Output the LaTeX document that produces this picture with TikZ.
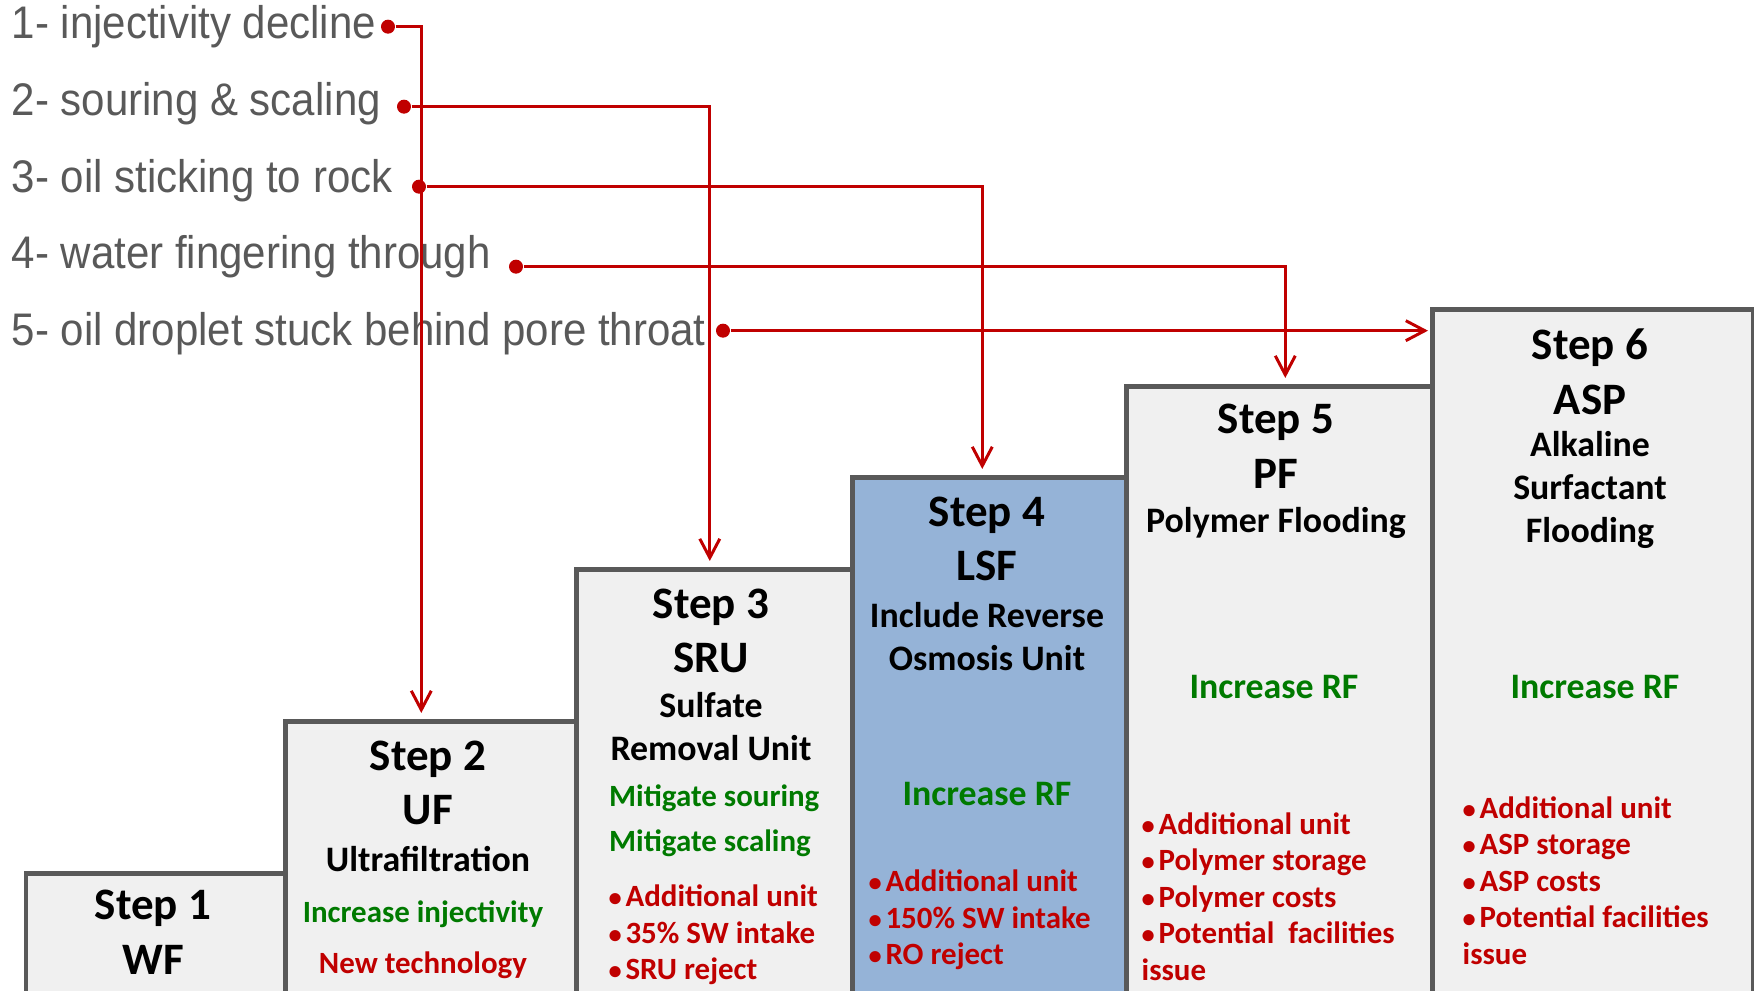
\documentclass[tikz,border=0pt]{standalone}
\usepackage{fontspec}
\setmainfont{Carlito}
\newfontfamily\listfont[FakeStretch=0.92]{Liberation Sans}
\usetikzlibrary{arrows.meta}
\usepackage{xcolor}
\definecolor{stepgrey}{HTML}{595959}
\definecolor{stepfill}{HTML}{F0F0F0}
\definecolor{stepblue}{HTML}{95B3D7}
\definecolor{linkred}{HTML}{C00000}
\definecolor{gaingreen}{HTML}{007A00}
\definecolor{listgrey}{HTML}{595959}

\newcommand\itm{{\fontsize{7.5}{7.5}\selectfont\textbullet}\hspace{0.12em}}

\begin{document}
\begin{tikzpicture}[
  stepbox/.style={draw=stepgrey, line width=1.3pt, fill=stepfill, anchor=north west,
                  minimum height=8cm, inner sep=0pt},
  steptitle/.style={font=\fontsize{12.8}{15.6}\selectfont\bfseries, align=center, inner sep=0pt},
  stepsub/.style={font=\fontsize{10.2}{12.2}\selectfont\bfseries, align=center, inner sep=0pt},
  gaintext/.style={font=\fontsize{8.8}{12.8}\selectfont\bfseries, text=gaingreen, align=left, inner sep=0pt},
  rfgain/.style={font=\fontsize{10.2}{12.2}\selectfont\bfseries, text=gaingreen, inner sep=0pt},
  costlist/.style={font=\fontsize{8.8}{10.4}\selectfont\bfseries, text=linkred, align=left, inner sep=0pt},
  problem/.style={font=\listfont\fontsize{13}{15}\selectfont, text=listgrey, anchor=base west, inner sep=0pt},
  probdot/.style={circle, fill=linkred, inner sep=0pt, minimum size=0.14cm},
  link/.style={draw=linkred, line width=0.85pt, -{Straight Barb[length=1.9mm, width=2mm]}, shorten >=0.06cm}
]
  \useasboundingbox (0,0) rectangle (17.54,9.91);
  \clip (0,0) rectangle (17.54,9.91);

  % Stairs
  \node[stepbox, minimum width=2.595cm] (s1) at (0.235,1.20) {};
  \node[stepbox, minimum width=2.91cm] (s2) at (2.83,2.72) {};
  \node[stepbox, minimum width=2.76cm] (s3) at (5.74,4.24) {};
  \node[stepbox, minimum width=2.74cm, fill=stepblue] (s4) at (8.50,5.16) {};
  \node[stepbox, minimum width=3.06cm] (s5) at (11.24,6.07) {};
  \node[stepbox, minimum width=3.21cm] (s6) at (14.30,6.84) {};

  % Step 1
  \node[steptitle] (t1) at (1.53,0.59) {Step 1\\WF};

  % Step 2
  \node[steptitle] (t2) at (4.28,2.08) {Step 2\\UF};
  \node[stepsub] (u2) at (4.28,1.32) {Ultrafiltration};
  \node[gaintext] (g2) at (4.23,0.77) {Increase injectivity};
  \node[costlist] (c2) at (4.23,0.26) {New technology};

  % Step 3
  \node[steptitle] (t3) at (7.11,3.60) {Step 3\\SRU};
  \node[stepsub] (u3) at (7.11,2.64) {Sulfate\\Removal Unit};
  \node[gaintext, anchor=west] (g3) at (6.085,1.705) {Mitigate souring\\Mitigate scaling};
  \node[costlist, anchor=west] (c3) at (6.08,0.56) {\itm Additional unit\\\itm 35\% SW intake\\\itm SRU reject};

  % Step 4
  \node[steptitle] (t4) at (9.87,4.52) {Step 4\\LSF};
  \node[stepsub] (u4) at (9.87,3.545) {Include Reverse\\Osmosis Unit};
  \node[rfgain] (g4) at (9.87,1.97) {Increase RF};
  \node[costlist, anchor=west] (c4) at (8.68,0.71) {\itm Additional unit\\\itm 150\% SW intake\\\itm RO reject};

  % Step 5
  \node[steptitle] (t5) at (12.76,5.445) {Step 5\\PF};
  \node[stepsub] (u5) at (12.76,4.68) {Polymer Flooding};
  \node[rfgain] (g5) at (12.74,3.04) {Increase RF};
  \node[costlist, anchor=west] (c5) at (11.41,0.945) {\itm Additional unit\\\itm Polymer storage\\\itm Polymer costs\\\itm Potential\ \ facilities\\issue};

  % Step 6
  \node[steptitle] (t6) at (15.90,6.195) {Step 6\\ASP};
  \node[stepsub] (u6) at (15.90,5.01) {Alkaline\\Surfactant\\Flooding};
  \node[rfgain] (g6) at (15.95,3.04) {Increase RF};
  \node[costlist, anchor=west] (c6) at (14.62,1.105) {\itm Additional unit\\\itm ASP storage\\\itm ASP costs\\\itm Potential facilities\\issue};

  % Problems
  \node[problem] (p1) at (0.11,9.52) {1- injectivity decline};
  \node[problem] (p2) at (0.11,8.75) {2- souring \& scaling};
  \node[problem] (p3) at (0.11,7.985) {3- oil sticking to rock};
  \node[problem] (p4) at (0.11,7.22) {4- water fingering through};
  \node[problem] (p5) at (0.11,6.457) {5- oil droplet stuck behind pore throat};

  \node[probdot] (d1) at (3.88,9.643) {};
  \node[probdot] (d2) at (4.04,8.843) {};
  \node[probdot] (d3) at (4.19,8.043) {};
  \node[probdot] (d4) at (5.16,7.243) {};
  \node[probdot] (d5) at (7.23,6.603) {};

  % Links
  \draw[link] (d1) -| ([xshift=-0.095cm]s2.north);
  \draw[link] (d2) -| ([xshift=-0.045cm]s3.north);
  \draw[link] (d3) -| ([xshift=-0.07cm]s4.north);
  \draw[link] (d4) -| ([xshift=0.06cm]s5.north);
  \draw[link, shorten >=0.02cm] (d5) -- (d5 -| s6.west);
\end{tikzpicture}
\end{document}
